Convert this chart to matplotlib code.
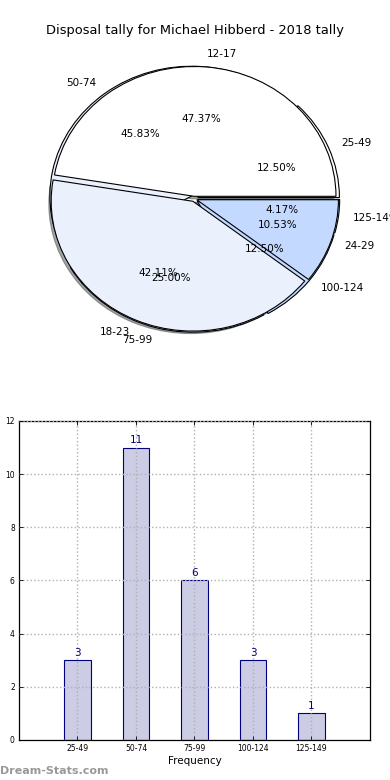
import matplotlib
matplotlib.use("Agg")
import matplotlib.pyplot as plt

title = "Disposal tally for Michael Hibberd - 2018 tally"

# Pie A (tally buckets)
pie_a_labels = ["12-17", "18-23", "24-29"]
pie_a_values = [9, 8, 2]
# Pie B (disposal buckets)
pie_b_labels = ["25-49", "50-74", "75-99", "100-124", "125-149"]
pie_b_values = [3, 11, 6, 3, 1]

# Bar chart
bar_labels = ["25-49", "50-74", "75-99", "100-124", "125-149"]
bar_values = [3, 11, 6, 3, 1]

fig = plt.figure(figsize=(3.9, 7.8), dpi=100)

white = "#FFFFFF"
light = "#EAF1FD"
blue = "#C4D9FF"

axp = fig.add_axes([0.036, 0.532, 0.923, 0.426])
axp.pie(pie_b_values, labels=pie_b_labels, autopct="%.2f%%",
        colors=[white, light, light, blue, blue],
        explode=[0.028, 0.028, 0.028, 0.028, 0.028], startangle=0,
        wedgeprops=dict(edgecolor="black", linewidth=0.8),
        textprops=dict(fontsize=7.5), shadow=False)
axp.pie(pie_a_values, labels=pie_a_labels, autopct="%.2f%%",
        colors=[white, light, blue],
        explode=[0.02, 0.02, 0.02], startangle=0,
        wedgeprops=dict(edgecolor="black", linewidth=0.8),
        textprops=dict(fontsize=7.5),
        shadow=dict(ox=-0.012, oy=-0.014, shade=0.7))
axp.set_aspect("auto")
axp.set_xlim(-1.27, 1.27)
axp.set_ylim(-1.28, 1.28)
fig.text(0.5, 0.961, title, ha="center", va="center", fontsize=9.4)

axb = fig.add_axes([0.0487, 0.0513, 0.9, 0.409])
x = list(range(len(bar_values)))
bars = axb.bar(x, bar_values, width=0.45, color="#CCCCE5",
               edgecolor="#000080", linewidth=0.8)
for xi, v in zip(x, bar_values):
    axb.text(xi, v + 0.1, str(v), ha="center", va="bottom",
             color="#000080", fontsize=7.5)
axb.set_xlim(-1, 5)
axb.set_ylim(0, 12)
axb.set_xticks(x)
axb.set_xticklabels(bar_labels)
axb.set_yticks(range(0, 13, 2))
axb.tick_params(direction="in", labelsize=5.5, top=True, right=True,
                length=3, width=0.6, pad=3)
axb.grid(True, linestyle=":", color="#b0b0b0", linewidth=1)
axb.set_axisbelow(False)
axb.set_xlabel("Frequency", fontsize=7.5, labelpad=2)
axb.set_ylabel("Disposal tally", fontsize=7.5, labelpad=6)
for s in axb.spines.values():
    s.set_linewidth(0.9)

fig.text(0.0, 0.012, "Dream-Stats.com", fontsize=8, color="#999999",
         fontweight="bold", ha="left", va="center")

fig.savefig("out.png", dpi=100)
